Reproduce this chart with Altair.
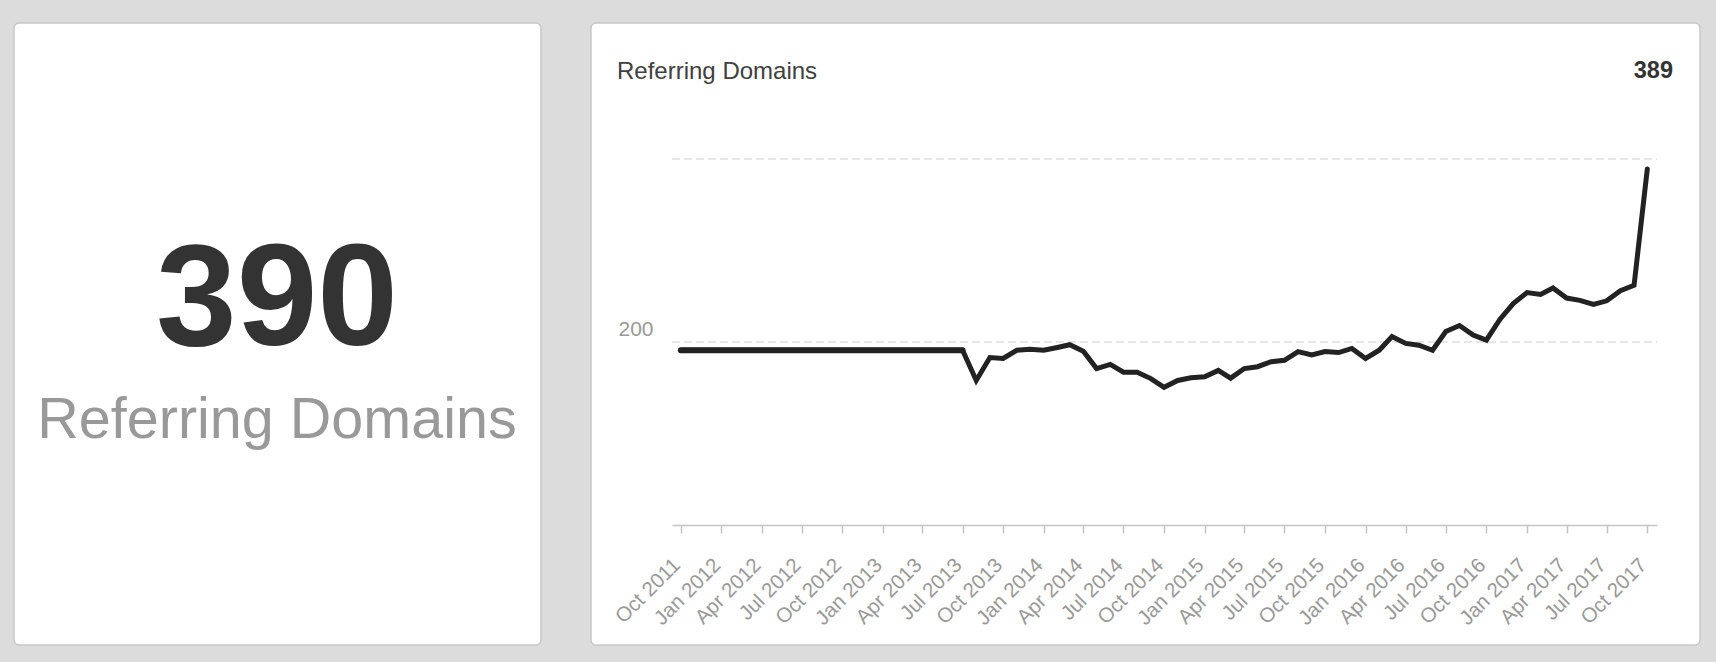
import altair as alt
import pandas as pd

# ---- data ----
months = [
    "2011-10", "2011-11", "2011-12",
    "2012-01", "2012-02", "2012-03", "2012-04", "2012-05", "2012-06",
    "2012-07", "2012-08", "2012-09", "2012-10", "2012-11", "2012-12",
    "2013-01", "2013-02", "2013-03", "2013-04", "2013-05", "2013-06",
    "2013-07", "2013-08", "2013-09", "2013-10", "2013-11", "2013-12",
    "2014-01", "2014-02", "2014-03", "2014-04", "2014-05", "2014-06",
    "2014-07", "2014-08", "2014-09", "2014-10", "2014-11", "2014-12",
    "2015-01", "2015-02", "2015-03", "2015-04", "2015-05", "2015-06",
    "2015-07", "2015-08", "2015-09", "2015-10", "2015-11", "2015-12",
    "2016-01", "2016-02", "2016-03", "2016-04", "2016-05", "2016-06",
    "2016-07", "2016-08", "2016-09", "2016-10", "2016-11", "2016-12",
    "2017-01", "2017-02", "2017-03", "2017-04", "2017-05", "2017-06",
    "2017-07", "2017-08", "2017-09", "2017-10",
]
referring_domains = [
    191, 191, 191,
    191, 191, 191, 191, 191, 191,
    191, 191, 191, 191, 191, 191,
    191, 191, 191, 191, 191, 191,
    191, 158, 183, 182, 191, 192,
    191, 194, 197, 190, 171, 175.5,
    167, 167, 160, 150.5, 158, 161,
    162, 169, 160.5, 171, 173, 178.5,
    180, 189.5, 186, 189.5, 188.5, 193,
    182, 191, 206, 198.5, 196.5, 191,
    211.5, 218, 207.5, 202, 225, 242,
    254, 252, 259, 248, 245.5, 241,
    245, 256, 262, 389,
]
flat_months = 22          # Oct 2011 - Jul 2013: flat stretch drawn heavier
y_label_values = [200]
grid_values = [200, 400]

card_value = "390"
card_label = "Referring Domains"
panel_title = "Referring Domains"
panel_value = "389"

# ---- layout ----
W, H = 985, 366
PAD = {"left": 672, "top": 159, "right": 59, "bottom": 137}
FONT = "Liberation Sans"

df = pd.DataFrame({
    "date": [m + "-01T00:00:00" for m in months],
    "domains": referring_domains,
})
df_flat = df.iloc[:flat_months]
grid_df = pd.DataFrame({"domains": grid_values})

x_scale = alt.Scale(
    domain=[alt.DateTime(year=2011, month=9, date=11),
            alt.DateTime(year=2017, month=10, date=23)],
    nice=False,
)
y_scale = alt.Scale(domain=[0, 400], nice=False)

x_axis = alt.Axis(
    title=None, format="%b %Y",
    tickCount=alt.TimeIntervalStep(interval="month", step=3),
    labelAngle=315, labelAlign="right", labelBaseline="alphabetic",
    labelPadding=33, labelFontSize=20.5, labelColor="#999999", labelFont=FONT,
    labelOverlap=False, labelFlush=False,
    domainColor="#c4c4c4", domainWidth=1.5,
    tickColor="#c4c4c4", tickWidth=1.5, tickSize=8,
    grid=False, zindex=1,
)
y_axis = alt.Axis(
    title=None, values=y_label_values, domain=False, ticks=False, tickSize=0,
    grid=False, labelAlign="right", labelBaseline="alphabetic",
    labelPadding=19, labelOffset=-7, labelFontSize=21,
    labelColor="#999999", labelFont=FONT, zindex=1,
)

one = pd.DataFrame({"k": [0]})

left_card = alt.Chart(one).mark_rect(
    fill="white", stroke="#c8c8c8", strokeWidth=1.5, cornerRadius=5
).encode(x=alt.value(14 - 672), x2=alt.value(541 - 672),
         y=alt.value(23 - 159), y2=alt.value(645 - 159))

right_card = alt.Chart(one).mark_rect(
    fill="white", stroke="#c8c8c8", strokeWidth=1.5, cornerRadius=5
).encode(x=alt.value(591 - 672), x2=alt.value(1700 - 672),
         y=alt.value(23 - 159), y2=alt.value(645 - 159))

grid = alt.Chart(grid_df).mark_rule(
    color="#e6e6e6", strokeWidth=2, strokeDash=[8, 4]
).encode(y=alt.Y("domains:Q", scale=y_scale, axis=y_axis),
         x=alt.value(0), x2=alt.value(W))

line = alt.Chart(df).mark_line(
    color="#222222", strokeWidth=5, strokeCap="round"
).encode(
    x=alt.X("date:T", scale=x_scale, axis=x_axis),
    y=alt.Y("domains:Q", scale=y_scale, axis=y_axis),
)

flat = alt.Chart(df_flat).mark_line(
    color="#222222", strokeWidth=6, strokeCap="round"
).encode(
    x=alt.X("date:T", scale=x_scale, axis=x_axis),
    y=alt.Y("domains:Q", scale=y_scale, axis=y_axis),
)

big_num = alt.Chart(pd.DataFrame({"t": [card_value]})).mark_text(
    font=FONT, fontSize=145, fontWeight="bold", color="#333333",
    align="center", baseline="alphabetic"
).encode(text="t:N", x=alt.value(277 - 672), y=alt.value(345 - 159))

big_label = alt.Chart(pd.DataFrame({"t": [card_label]})).mark_text(
    font=FONT, fontSize=57.5, color="#999999",
    align="center", baseline="alphabetic"
).encode(text="t:N", x=alt.value(277 - 672), y=alt.value(438 - 159))

p_title = alt.Chart(pd.DataFrame({"t": [panel_title]})).mark_text(
    font=FONT, fontSize=24, color="#404040",
    align="left", baseline="alphabetic"
).encode(text="t:N", x=alt.value(617 - 672), y=alt.value(79 - 159))

p_value = alt.Chart(pd.DataFrame({"t": [panel_value]})).mark_text(
    font=FONT, fontSize=23.5, fontWeight="bold", color="#333333",
    align="right", baseline="alphabetic"
).encode(text="t:N", x=alt.value(1673 - 672), y=alt.value(78 - 159))

chart = alt.layer(
    left_card, right_card, grid, line, flat,
    big_num, big_label, p_title, p_value,
).properties(
    width=W, height=H, padding=PAD,
    autosize=alt.AutoSizeParams(type="none"),
    background="#dcdcdc",
).configure_view(strokeWidth=0).configure(font=FONT)

chart.save("out.html", embed_options={"renderer": "svg", "actions": False})
